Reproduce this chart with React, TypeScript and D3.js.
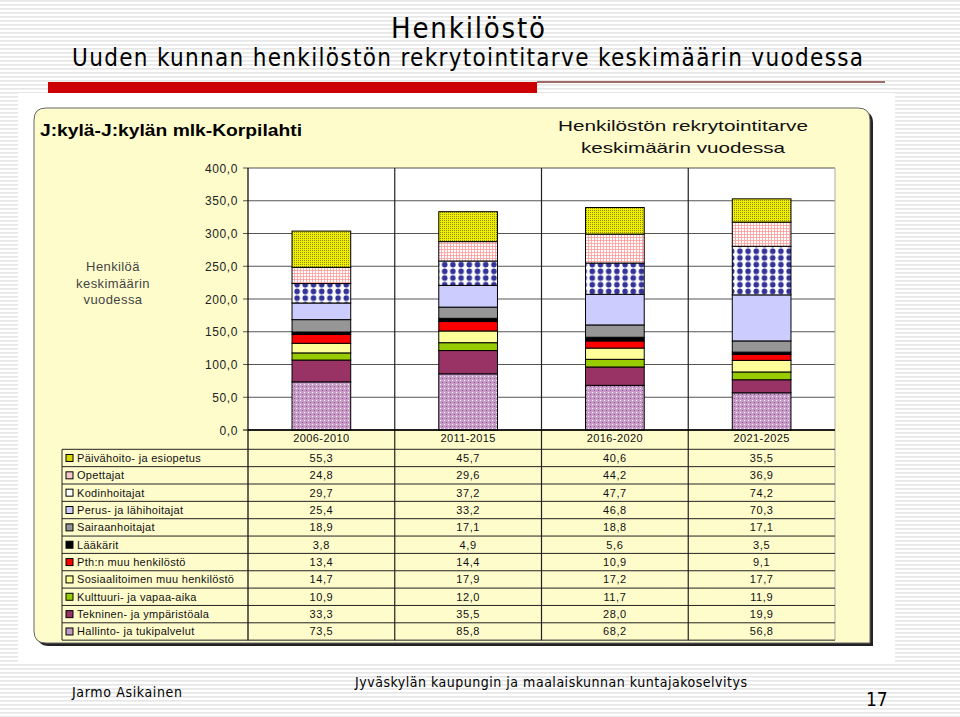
import React from "react";
import * as d3 from "d3";

const categories = ["2006-2010", "2011-2015", "2016-2020", "2021-2025"];
const seriesNames = [
  "Päivähoito- ja esiopetus",
  "Opettajat",
  "Kodinhoitajat",
  "Perus- ja lähihoitajat",
  "Sairaanhoitajat",
  "Lääkärit",
  "Pth:n muu henkilöstö",
  "Sosiaalitoimen muu henkilöstö",
  "Kulttuuri- ja vapaa-aika",
  "Tekninen- ja ympäristöala",
  "Hallinto- ja tukipalvelut",
];
const paivahoito = [55.3, 45.7, 40.6, 35.5];
const opettajat = [24.8, 29.6, 44.2, 36.9];
const kodinhoitajat = [29.7, 37.2, 47.7, 74.2];
const perushoitajat = [25.4, 33.2, 46.8, 70.3];
const sairaanhoitajat = [18.9, 17.1, 18.8, 17.1];
const laakarit = [3.8, 4.9, 5.6, 3.5];
const pthMuu = [13.4, 14.4, 10.9, 9.1];
const sosiaaliMuu = [14.7, 17.9, 17.2, 17.7];
const kulttuuri = [10.9, 12.0, 11.7, 11.9];
const tekninen = [33.3, 35.5, 28.0, 19.9];
const hallinto = [73.5, 85.8, 68.2, 56.8];
const seriesValues = [
  paivahoito, opettajat, kodinhoitajat, perushoitajat, sairaanhoitajat,
  laakarit, pthMuu, sosiaaliMuu, kulttuuri, tekninen, hallinto,
];
const yTicks = [0, 50, 100, 150, 200, 250, 300, 350, 400];

const fills = [
  "url(#patPaiva)",
  "url(#patOpett)",
  "url(#patKodin)",
  "#CCCCFF",
  "#969696",
  "#000000",
  "#FF0000",
  "#FFFF99",
  "#99CC00",
  "#993366",
  "url(#patHall)",
];
const legendFills = [
  "#D8D800",
  "#F4C8C8",
  "#ffffff",
  "#CCCCFF",
  "#969696",
  "#000000",
  "#FF0000",
  "#FFFF99",
  "#99CC00",
  "#993366",
  "#C09AC0",
];

const fmt = (v: number) => v.toFixed(1).replace(".", ",");

export default function App() {
  const plotL = 248, plotR = 835, plotT = 168, plotB = 430;
  const x = d3.scaleBand<string>().domain(categories).range([plotL, plotR]).paddingInner(0).paddingOuter(0);
  const xb = d3.scaleBand<string>().domain(categories).range([plotL, plotR]).paddingInner(0.6).paddingOuter(0.3);
  const y = d3.scaleLinear().domain([0, 400]).range([plotB, plotT]);

  const rows = categories.map((c, i) => {
    const r: any = { cat: c };
    seriesNames.forEach((s, j) => (r[s] = seriesValues[j][i]));
    return r;
  });
  const stackKeys = [...seriesNames].reverse();
  const stacked = d3.stack<any>().keys(stackKeys)(rows);

  const headerB = 449.3;
  const rowH = 17.35;
  const tableL = 62;
  const tableB = headerB + rowH * seriesNames.length;
  const font = "'Liberation Sans', Arial, sans-serif";
  const narrow = "'Liberation Sans Narrow', 'DejaVu Sans Condensed', 'Liberation Sans', sans-serif";
  const panel = `M34,120 Q34,108 46,108 L858,108 Q870,108 870,120 L870,643 L46,643 Q34,643 34,631 Z`;

  return (
    <svg width={960} height={717} style={{ position: "absolute", left: 0, top: 0 }} fontFamily={font}>
      <defs>
        <pattern id="stripes" width={4} height={4} patternUnits="userSpaceOnUse">
          <rect width={4} height={4} fill="#ffffff" />
          <rect width={4} height={1.6} fill="#e6e6e6" />
        </pattern>
        <pattern id="patPaiva" width={2} height={2} patternUnits="userSpaceOnUse">
          <rect width={2} height={2} fill="#F0F000" />
          <rect width={1} height={1} fill="#8a8a10" />
        </pattern>
        <pattern id="patOpett" width={3} height={3} patternUnits="userSpaceOnUse">
          <rect width={3} height={3} fill="#ffffff" />
          <rect width={3} height={0.8} fill="#FF9a9a" />
          <rect width={0.8} height={3} fill="#FF9a9a" />
        </pattern>
        <pattern id="patKodin" width={8.2} height={6.7} patternUnits="userSpaceOnUse" x={293}>
          <rect width={8.2} height={6.7} fill="#ffffff" />
          <circle cx={4.1} cy={3.35} r={2.8} fill="#333399" />
        </pattern>
        <pattern id="patHall" width={4} height={4} patternUnits="userSpaceOnUse">
          <rect width={4} height={4} fill="#C89CC8" />
          <rect x={0} y={0} width={1} height={1} fill="#ffffff" />
          <rect x={2} y={2} width={1} height={1} fill="#8a4a8a" />
        </pattern>
      </defs>

      {/* slide background */}
      <rect x={0} y={0} width={960} height={717} fill="url(#stripes)" />
      <rect x={18} y={93} width={877} height={569} fill="#ffffff" />

      {/* slide titles */}
      <text x={391} y={38} fontSize={29} fontFamily={narrow} textLength={154} lengthAdjust="spacing" fill="#000">Henkilöstö</text>
      <text x={72} y={66} fontSize={24} fontFamily={narrow} textLength={791} lengthAdjust="spacing" fill="#000">
        Uuden kunnan henkilöstön rekrytointitarve keskimäärin vuodessa
      </text>
      <rect x={48} y={82} width={489} height={11} fill="#CC0000" />
      <rect x={537} y={81} width={348} height={2} fill="#A06A6A" />

      {/* chart panel */}
      <path d={panel} fill="#222" transform="translate(3,3)" />
      <path d={panel} fill="#FFFCCC" stroke="#666" strokeWidth={1} />

      <text x={40} y={136} fontSize={16} fontWeight="bold" textLength={262} lengthAdjust="spacingAndGlyphs" fill="#000">J:kylä-J:kylän mlk-Korpilahti</text>
      <text x={683} y={131} textAnchor="middle" fontSize={15} textLength={250} lengthAdjust="spacingAndGlyphs" fill="#111">Henkilöstön rekrytointitarve</text>
      <text x={683} y={153} textAnchor="middle" fontSize={15} textLength={204} lengthAdjust="spacingAndGlyphs" fill="#111">keskimäärin vuodessa</text>

      {/* y label */}
      {["Henkilöä", "keskimäärin", "vuodessa"].map((t, i) => (
        <text key={t} x={113} y={271 + i * 16.5} textAnchor="middle" fontSize={13} fill="#444" letterSpacing={0.4}>{t}</text>
      ))}

      {/* plot area */}
      <rect x={plotL} y={plotT} width={plotR - plotL} height={plotB - plotT} fill="#ffffff" />
      {yTicks.map((t) => (
        <g key={t}>
          <line x1={plotL - 5} x2={plotR} y1={y(t)} y2={y(t)} stroke={t === 0 ? "#000" : "#555"} strokeWidth={1} />
          <text x={238} y={y(t) + 4.5} textAnchor="end" fontSize={12} fill="#222" letterSpacing={0.6}>{fmt(t)}</text>
        </g>
      ))}
      {categories.slice(1).map((c) => (
        <line key={c} x1={x(c)!} x2={x(c)!} y1={plotT} y2={tableB} stroke="#222" strokeWidth={1.2} />
      ))}
      <line x1={plotR} x2={plotR} y1={plotT} y2={tableB} stroke="#aaa" strokeWidth={1} />
      <line x1={plotL} x2={plotL} y1={plotT} y2={tableB} stroke="#000" strokeWidth={1.2} />

      {/* bars */}
      {stacked.map((layer) => {
        const idx = seriesNames.indexOf(layer.key);
        return (
          <g key={layer.key}>
            {layer.map((d, i) => (
              <rect
                key={i}
                x={xb(categories[i])!}
                y={y(d[1])}
                width={xb.bandwidth()}
                height={y(d[0]) - y(d[1])}
                fill={fills[idx]}
                stroke="#000"
                strokeWidth={1}
              />
            ))}
          </g>
        );
      })}

      {/* table */}
      <line x1={plotL} x2={plotR} y1={plotB} y2={plotB} stroke="#000" strokeWidth={1.6} />
      {categories.map((c) => (
        <text key={c} x={x(c)! + x.bandwidth() / 2} y={442} textAnchor="middle" fontSize={11} fill="#111" letterSpacing={0.4}>{c}</text>
      ))}
      <line x1={tableL} x2={plotR} y1={headerB} y2={headerB} stroke="#222" strokeWidth={1} />
      <line x1={tableL} x2={tableL} y1={headerB} y2={tableB} stroke="#222" strokeWidth={1} />
      {seriesNames.map((s, j) => {
        const top = headerB + j * rowH;
        const cy = top + rowH / 2;
        return (
          <g key={s}>
            <line x1={tableL} x2={plotR} y1={top + rowH} y2={top + rowH} stroke="#222" strokeWidth={1} />
            <rect x={66} y={cy - 3.5} width={7} height={7} fill={legendFills[j]} stroke="#000" strokeWidth={1} />
            <text x={77} y={cy + 4} fontSize={11} fill="#111" letterSpacing={0.3}>{s}</text>
            {categories.map((c, i) => (
              <text key={c} x={x(c)! + x.bandwidth() / 2} y={cy + 4} textAnchor="middle" fontSize={11} fill="#111" letterSpacing={0.6}>
                {fmt(seriesValues[j][i])}
              </text>
            ))}
          </g>
        );
      })}

      {/* footer */}
      <text x={72} y={697} fontSize={14} fontFamily={narrow} textLength={110} lengthAdjust="spacing" fill="#000">Jarmo Asikainen</text>
      <text x={355} y={687} fontSize={14} fontFamily={narrow} textLength={392} lengthAdjust="spacing" fill="#000">Jyväskylän kaupungin ja maalaiskunnan kuntajakoselvitys</text>
      <text x={866} y={706} fontSize={19} fontFamily={narrow} fill="#000">17</text>
    </svg>
  );
}
